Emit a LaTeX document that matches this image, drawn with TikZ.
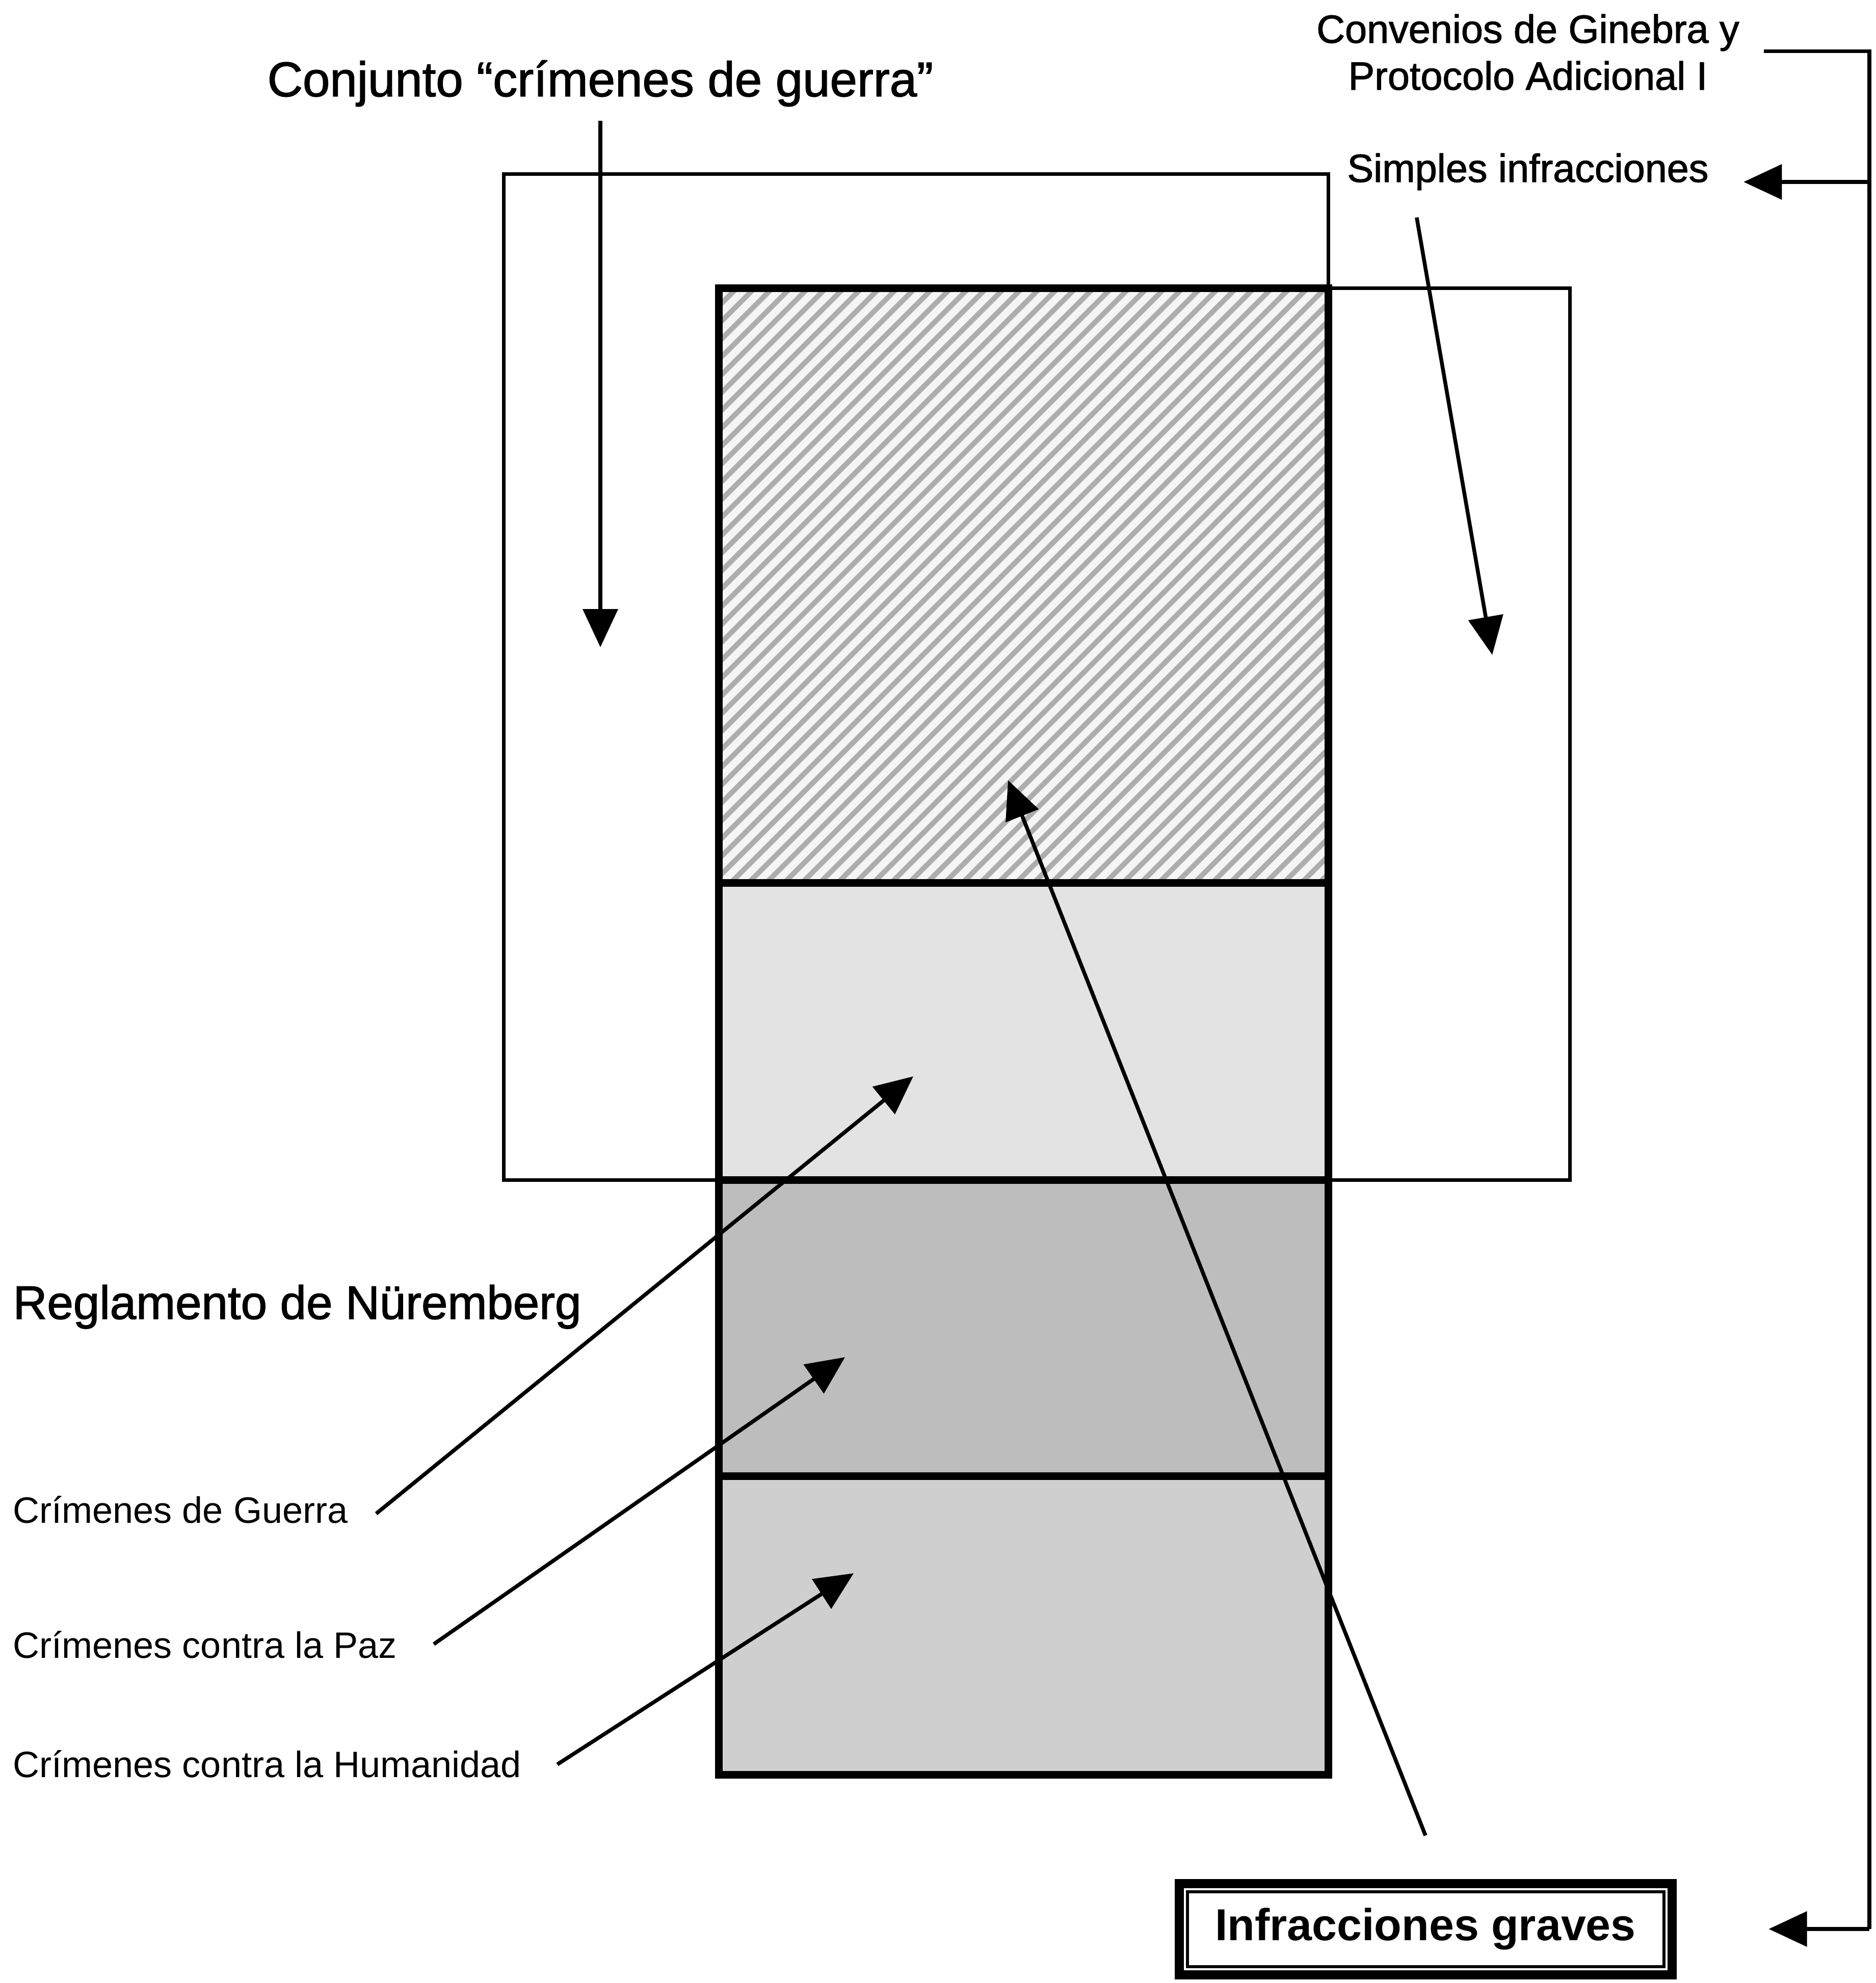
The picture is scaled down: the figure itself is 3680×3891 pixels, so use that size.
\documentclass[tikz,border=0pt]{standalone}
\usepackage{fontspec}
\setmainfont{Liberation Sans}
\newfontfamily\medfont{Liberation Sans}[FakeBold=1.5]
\usetikzlibrary{arrows.meta,positioning}

\begin{document}
\begin{tikzpicture}[x=0.1mm,y=-0.1mm,
    every node/.style={inner sep=0pt},
    thinbox/.style={line width=0.7mm},
    thickbox/.style={line width=1.5mm},
    hatchline/.style={draw=black!32,line width=1mm},
    pointer/.style={line width=0.75mm,-{Triangle[length=7.5mm,width=6.8mm]}},
    link/.style={line width=0.75mm},
    big/.style={font=\fontsize{27}{32}\medfont},
    mid/.style={font=\fontsize{22}{26}\medfont},
    small/.style={font=\fontsize{20.5}{24}\selectfont}]
  \useasboundingbox (0,0) rectangle (3680,3891);

  % shaded column
  \fill[black!4] (1410,566) rectangle (2606,1732);
  \fill[black!11] (1410,1732) rectangle (2606,2315);
  \fill[black!26] (1410,2315) rectangle (2606,2896);
  \fill[black!19] (1410,2896) rectangle (2606,3482);
  \begin{scope}
    \clip (1410,566) rectangle (2606,1732);
    \foreach \k in {0,...,68}
      \draw[hatchline] ({244+35*\k},1732) -- ++(1166,-1166);
  \end{scope}

  \draw[thinbox] (988,342) rectangle (2606,2315);
  \draw[thinbox] (1410,566) rectangle (3080,2315);
  \draw[thickbox] (1410,566) rectangle (2606,3482);
  \foreach \y in {1732,2315,2896}
    \draw[thickbox] (1410,\y) -- (2606,\y);

  % labels
  \node[big,font=\fontsize{27.3}{32}\medfont,anchor=base] (conj) at (1178,189) {Conjunto “crímenes de guerra”};
  \node[mid,anchor=base] (conv1) at (2998,84) {Convenios de Ginebra y};
  \node[mid,anchor=base] (conv2) at (2998,176) {Protocolo Adicional I};
  \node[mid,anchor=base] (simp) at (2998,357) {Simples infracciones};
  \node[big,font=\fontsize{26.3}{32}\medfont,anchor=base west] (regl) at (25,2588) {Reglamento de Nüremberg};
  \node[small,anchor=base west] (cg) at (25,2988) {Crímenes de Guerra};
  \node[small,anchor=base west] (cp) at (25,3253) {Crímenes contra la Paz};
  \node[small,anchor=base west] (ch) at (25,3487) {Crímenes contra la Humanidad};
  \node[draw,line width=1.8mm,minimum width=96.7mm,minimum height=17.9mm,
        font=\fontsize{25}{30}\selectfont\bfseries] (graves) at (2797,3785) {Infracciones graves};
  \draw[line width=0.6mm] ([shift={(2.5mm,2.5mm)}]graves.south west)
    rectangle ([shift={(-2.5mm,-2.5mm)}]graves.north east);

  \coordinate (conjtip) at (1178,1270);
  \coordinate (simptip) at (2928,1285);
  \coordinate (gravtip) at (1978,1531);
  \coordinate (cgtip) at (1792,2112);
  \coordinate (cptip) at (1658,2663);
  \coordinate (chtip) at (1675,3087);
  \coordinate (brx) at (3668,0);
  \coordinate (brtop) at ([xshift=4.7mm]conv1.south east);

  % arrows
  \draw[pointer] ([yshift=-2.7mm]conj.south) -- (conjtip);
  \draw[pointer] ([xshift=13.7mm,yshift=-5.3mm]simp.south west) -- (simptip);
  \draw[pointer] ([yshift=8.5mm]graves.north) -- (gravtip);
  \draw[pointer] ([xshift=5.5mm,yshift=1.8mm]cg.base east) -- (cgtip);
  \draw[pointer] ([xshift=7.2mm,yshift=2.7mm]cp.base east) -- (cptip);
  \draw[pointer] ([xshift=7mm,yshift=2.5mm]ch.base east) -- (chtip);

  \draw[link] (brtop) -- (brtop -| brx) -- (brx |- graves.east);
  \draw[pointer] (brx |- simp.base east) -- ([xshift=6.8mm]simp.base east);
  \draw[pointer] (brx |- graves.east) -- ([xshift=18.1mm]graves.east);
\end{tikzpicture}
\end{document}
